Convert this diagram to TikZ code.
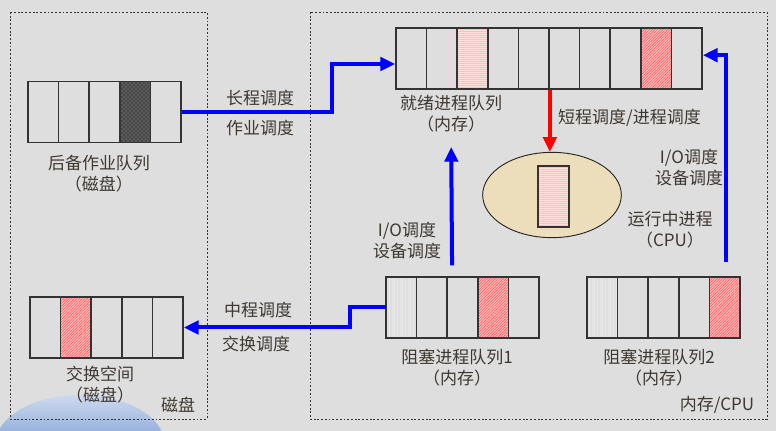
\documentclass[tikz,border=0pt]{standalone}
\usepackage{fontspec}
\setmainfont{Noto Sans CJK SC}
\usetikzlibrary{positioning, arrows.meta, shapes.geometric, patterns, patterns.meta}
\definecolor{bggray}{RGB}{222,222,222}
\definecolor{labelgray}{RGB}{62,56,50}
\definecolor{cpufill}{RGB}{236,222,186}
\definecolor{swooshtop}{RGB}{205,218,238}
\definecolor{swooshbot}{RGB}{60,110,195}

\begin{document}
\begin{tikzpicture}[x=0.75pt, y=-0.75pt,
  cell/.style={draw=black!80, line width=1.3pt, minimum width=22.95pt, minimum height=45.75pt, inner sep=0pt},
  redcell/.style={cell, preaction={fill=red!25}, pattern={Lines[angle=45,distance=1.4pt,line width=0.45pt]}, pattern color=red!65},
  pinkcell/.style={cell, preaction={fill=red!12}, pattern={Lines[angle=0,distance=1.5pt,line width=0.4pt]}, pattern color=red!25},
  darkcell/.style={cell, preaction={fill=black!65}, pattern=crosshatch dots, pattern color=black!90},
  stripcell/.style={cell, preaction={fill=bggray}, pattern={Lines[angle=90,distance=2pt,line width=0.4pt]}, pattern color=white!30!bggray},
  lbl/.style={text=labelgray, font=\fontsize{12.75}{15.75}\selectfont, align=center, inner sep=0pt},
  area/.style={draw=black!80, line width=0.7pt, dash pattern=on 1.4pt off 1.4pt},
  sched/.style={draw=blue, line width=3pt, -{Triangle[length=11pt,width=10pt]}},
]
\useasboundingbox (0,0) rectangle (776,431);
\fill[bggray] (0,0) rectangle (776,431);
\begin{scope}
\clip (0,0) rectangle (776,431);
\shade[top color=swooshtop, bottom color=swooshbot] (80,445) ellipse [x radius=85, y radius=50];
\end{scope}

% disk / memory areas
\draw[area] (10,12) rectangle (207,419);
\draw[area] (310,12) rectangle (767,419);

% backup job queue
\node[cell] (H0) at (43.3,112) {};
\node[cell] (H1) at (73.9,112) {};
\node[cell] (H2) at (104.5,112) {};
\node[darkcell] (H3) at (135.1,112) {};
\node[cell] (H4) at (165.7,112) {};

% swap space
\node[cell] (S0) at (45.3,327.5) {};
\node[redcell] (S1) at (75.9,327.5) {};
\node[cell] (S2) at (106.5,327.5) {};
\node[cell] (S3) at (137.1,327.5) {};
\node[cell] (S4) at (167.7,327.5) {};

% ready queue
\node[cell] (R0) at (411.3,58.5) {};
\node[cell] (R1) at (441.9,58.5) {};
\node[pinkcell] (R2) at (472.5,58.5) {};
\node[cell] (R3) at (503.1,58.5) {};
\node[cell] (R4) at (533.7,58.5) {};
\node[cell] (R5) at (564.3,58.5) {};
\node[cell] (R6) at (594.9,58.5) {};
\node[cell] (R7) at (625.5,58.5) {};
\node[redcell] (R8) at (656.1,58.5) {};
\node[cell] (R9) at (686.7,58.5) {};

% blocked queue 1
\node[stripcell] (K0) at (401.3,307.5) {};
\node[cell] (K1) at (431.9,307.5) {};
\node[cell] (K2) at (462.5,307.5) {};
\node[redcell] (K3) at (493.1,307.5) {};
\node[cell] (K4) at (523.7,307.5) {};

% blocked queue 2
\node[stripcell] (L0) at (602.3,307.5) {};
\node[cell] (L1) at (632.9,307.5) {};
\node[cell] (L2) at (663.5,307.5) {};
\node[cell] (L3) at (694.1,307.5) {};
\node[redcell] (L4) at (724.7,307.5) {};

% running process
\node[ellipse, draw=black!85, line width=0.7pt, fill=cpufill, minimum width=104pt, minimum height=64pt, inner sep=0pt] (cpu) at (552,195) {};
\node[pinkcell, minimum width=23.25pt] (run) at (553.5,196.5) {};

% labels
\node[lbl] (backuplbl) at (99,173.5) {后备作业队列\\（磁盘）};
\node[lbl] (swaplbl) at (100,384.5) {交换空间\\（磁盘）};
\node[lbl] (disklbl) at (178,405) {磁盘};
\node[lbl] (longlbl) at (260,98) {长程调度};
\node[lbl] (joblbl) at (260,128) {作业调度};
\node[lbl] (midlbl) at (258,310) {中程调度};
\node[lbl] (swapschedlbl) at (256,344) {交换调度};
\node[lbl] (readylbl) at (451,114) {就绪进程队列\\（内存）};
\node[lbl] (shortlbl) at (629.5,118) {短程调度/进程调度};
\node[lbl] (io2lbl) at (689,167.5) {I/O调度\\设备调度};
\node[lbl] (runlbl) at (670,229.5) {运行中进程\\（CPU）};
\node[lbl] (io1lbl) at (407,240.5) {I/O调度\\设备调度};
\node[lbl] (block1lbl) at (457,368) {阻塞进程队列1\\（内存）};
\node[lbl] (block2lbl) at (659,368) {阻塞进程队列2\\（内存）};
\node[lbl] (memlbl) at (717,405) {内存/CPU};

\coordinate (jumpA) at (332,64);
\coordinate (jumpB) at (350,327.5);
\coordinate (ioA) at (451.2,147);

\draw[sched] (H4.east) -| (jumpA) -- (jumpA -| R0.west);
\draw[sched] (K0.west) -| (jumpB) -- (S4.east);
\draw[sched] ([xshift=3pt,yshift=8pt]K1.north east) -- (ioA);
\draw[sched] ([xshift=1pt,yshift=10.5pt]L4.north) |- ([yshift=2.5pt]R9.east);
\draw[sched, draw=red] (R4.south east) -- (R4.south east |- cpu.north);
\end{tikzpicture}
\end{document}
